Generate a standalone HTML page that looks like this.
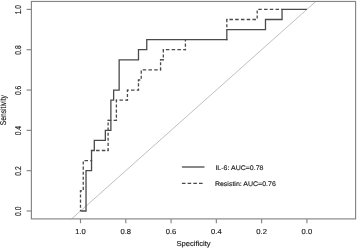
<!DOCTYPE html>
<html><head><meta charset="utf-8"><style>
html,body{margin:0;padding:0;background:#fff;}
body{width:358px;height:249px;overflow:hidden;}
svg{display:block;will-change:transform;}
text{text-rendering:geometricPrecision;font-family:"Liberation Sans",sans-serif;font-size:7.6px;fill:#1a1a1a;stroke:#1a1a1a;stroke-width:0.15px;}
</style></head><body>
<svg width="358" height="249" viewBox="0 0 358 249">
<rect x="0" y="0" width="358" height="249" fill="#fff"/>
<line x1="71.63" y1="218.9" x2="315.83" y2="1.45" stroke="#b8b8b8" stroke-width="0.9"/>
<g stroke="#4a4a4a" stroke-width="1.3" fill="none">
<line x1="80.50" y1="211.00" x2="80.50" y2="190.84" stroke-dasharray="3.080,1.989" stroke-dashoffset="1.830"/>
<rect x="79.85" y="190.19" width="1.3" height="1.3" stroke="none" fill="#4a4a4a"/>
<line x1="80.50" y1="190.84" x2="83.26" y2="190.84" stroke-dasharray="3.500,2.260" stroke-dashoffset="1.949"/>
<line x1="83.26" y1="190.84" x2="83.26" y2="160.60" stroke-dasharray="3.080,1.989" stroke-dashoffset="4.145"/>
<line x1="83.26" y1="160.60" x2="91.54" y2="160.60" stroke-dasharray="3.500,2.260" stroke-dashoffset="4.514"/>
<rect x="90.89" y="159.95" width="1.3" height="1.3" stroke="none" fill="#4a4a4a"/>
<rect x="90.89" y="149.87" width="1.3" height="1.3" stroke="none" fill="#4a4a4a"/>
<line x1="94.30" y1="150.52" x2="108.11" y2="150.52" stroke-dasharray="3.500,2.260" stroke-dashoffset="3.972"/>
<rect x="107.46" y="149.87" width="1.3" height="1.3" stroke="none" fill="#4a4a4a"/>
<line x1="108.11" y1="150.52" x2="108.11" y2="120.28" stroke-dasharray="3.080,1.989" stroke-dashoffset="0.437"/>
<rect x="107.46" y="119.63" width="1.3" height="1.3" stroke="none" fill="#4a4a4a"/>
<line x1="108.11" y1="120.28" x2="116.39" y2="120.28" stroke-dasharray="3.500,2.260" stroke-dashoffset="0.301"/>
<rect x="115.74" y="119.63" width="1.3" height="1.3" stroke="none" fill="#4a4a4a"/>
<line x1="116.39" y1="120.28" x2="116.39" y2="100.12" stroke-dasharray="3.080,1.989" stroke-dashoffset="2.485"/>
<rect x="115.74" y="99.47" width="1.3" height="1.3" stroke="none" fill="#4a4a4a"/>
<line x1="116.39" y1="100.12" x2="127.44" y2="100.12" stroke-dasharray="3.500,2.260" stroke-dashoffset="2.693"/>
<rect x="126.79" y="99.47" width="1.3" height="1.3" stroke="none" fill="#4a4a4a"/>
<line x1="127.44" y1="100.12" x2="127.44" y2="90.04" stroke-dasharray="3.080,1.989" stroke-dashoffset="1.951"/>
<rect x="126.79" y="89.39" width="1.3" height="1.3" stroke="none" fill="#4a4a4a"/>
<line x1="127.44" y1="90.04" x2="138.48" y2="90.04" stroke-dasharray="3.500,2.260" stroke-dashoffset="2.151"/>
<rect x="137.83" y="89.39" width="1.3" height="1.3" stroke="none" fill="#4a4a4a"/>
<line x1="138.48" y1="90.04" x2="138.48" y2="79.96" stroke-dasharray="3.080,1.989" stroke-dashoffset="1.474"/>
<rect x="137.83" y="79.31" width="1.3" height="1.3" stroke="none" fill="#4a4a4a"/>
<line x1="138.48" y1="79.96" x2="141.24" y2="79.96" stroke-dasharray="3.500,2.260" stroke-dashoffset="1.610"/>
<line x1="141.24" y1="79.96" x2="141.24" y2="69.88" stroke-dasharray="3.080,1.989" stroke-dashoffset="3.846"/>
<line x1="141.24" y1="69.88" x2="160.57" y2="69.88" stroke-dasharray="3.500,2.260" stroke-dashoffset="4.305"/>
<rect x="159.92" y="69.23" width="1.3" height="1.3" stroke="none" fill="#4a4a4a"/>
<line x1="160.57" y1="69.88" x2="160.57" y2="59.80" stroke-dasharray="3.080,1.989" stroke-dashoffset="0.521"/>
<rect x="159.92" y="59.15" width="1.3" height="1.3" stroke="none" fill="#4a4a4a"/>
<line x1="160.57" y1="59.80" x2="163.33" y2="59.80" stroke-dasharray="3.500,2.260" stroke-dashoffset="0.526"/>
<rect x="162.68" y="59.15" width="1.3" height="1.3" stroke="none" fill="#4a4a4a"/>
<line x1="163.33" y1="59.80" x2="163.33" y2="49.72" stroke-dasharray="3.080,1.989" stroke-dashoffset="2.893"/>
<rect x="162.68" y="49.07" width="1.3" height="1.3" stroke="none" fill="#4a4a4a"/>
<line x1="163.33" y1="49.72" x2="185.42" y2="49.72" stroke-dasharray="3.500,2.260" stroke-dashoffset="3.222"/>
<rect x="184.77" y="49.07" width="1.3" height="1.3" stroke="none" fill="#4a4a4a"/>
<line x1="185.42" y1="49.72" x2="185.42" y2="39.64" stroke-dasharray="3.080,1.989" stroke-dashoffset="1.997"/>
<rect x="184.77" y="38.99" width="1.3" height="1.3" stroke="none" fill="#4a4a4a"/>
<rect x="226.18" y="38.99" width="1.3" height="1.3" stroke="none" fill="#4a4a4a"/>
<line x1="226.83" y1="29.56" x2="226.83" y2="19.48" stroke-dasharray="3.080,1.989" stroke-dashoffset="2.846"/>
<rect x="226.18" y="18.83" width="1.3" height="1.3" stroke="none" fill="#4a4a4a"/>
<line x1="226.83" y1="19.48" x2="257.20" y2="19.48" stroke-dasharray="3.500,2.260" stroke-dashoffset="3.168"/>
<line x1="257.20" y1="19.48" x2="257.20" y2="9.40" stroke-dasharray="3.080,1.989" stroke-dashoffset="4.170"/>
<line x1="257.20" y1="9.40" x2="282.05" y2="9.40" stroke-dasharray="3.500,2.260" stroke-dashoffset="4.673"/>
</g>
<path d="M80.50,211.00 L86.02,211.00 L86.02,170.68 L91.54,170.68 L91.54,150.52 L94.30,150.52 L94.30,140.44 L105.35,140.44 L105.35,130.36 L110.87,130.36 L110.87,100.12 L113.63,100.12 L113.63,90.04 L119.15,90.04 L119.15,59.80 L138.48,59.80 L138.48,49.72 L146.76,49.72 L146.76,39.64 L226.83,39.64 L226.83,29.56 L265.49,29.56 L265.49,19.48 L282.05,19.48 L282.05,9.40 L306.90,9.40" fill="none" stroke="#4a4a4a" stroke-width="1.3"/>
<rect x="31.4" y="1.45" width="324.20" height="217.45" fill="none" stroke="#858585" stroke-width="1.15"/>
<g stroke="#858585" stroke-width="1.15"><line x1="80.50" y1="218.9" x2="80.50" y2="223.20"/><line x1="125.78" y1="218.9" x2="125.78" y2="223.20"/><line x1="171.06" y1="218.9" x2="171.06" y2="223.20"/><line x1="216.34" y1="218.9" x2="216.34" y2="223.20"/><line x1="261.62" y1="218.9" x2="261.62" y2="223.20"/><line x1="306.90" y1="218.9" x2="306.90" y2="223.20"/><line x1="26.60" y1="211.00" x2="31.4" y2="211.00"/><line x1="26.60" y1="170.68" x2="31.4" y2="170.68"/><line x1="26.60" y1="130.36" x2="31.4" y2="130.36"/><line x1="26.60" y1="90.04" x2="31.4" y2="90.04"/><line x1="26.60" y1="49.72" x2="31.4" y2="49.72"/><line x1="26.60" y1="9.40" x2="31.4" y2="9.40"/></g>
<line x1="181.9" y1="167.0" x2="204.5" y2="167.0" stroke="#4a4a4a" stroke-width="1.3"/>
<line x1="181.9" y1="183.4" x2="204.5" y2="183.4" stroke="#4a4a4a" stroke-width="1.3" stroke-dasharray="3.6,2.1"/>
<text x="0" y="0" text-anchor="middle" transform="translate(80.50,234.0) scale(1,0.95)">1.0</text>
<text x="0" y="0" text-anchor="middle" transform="translate(125.78,234.0) scale(1,0.95)">0.8</text>
<text x="0" y="0" text-anchor="middle" transform="translate(171.06,234.0) scale(1,0.95)">0.6</text>
<text x="0" y="0" text-anchor="middle" transform="translate(216.34,234.0) scale(1,0.95)">0.4</text>
<text x="0" y="0" text-anchor="middle" transform="translate(261.62,234.0) scale(1,0.95)">0.2</text>
<text x="0" y="0" text-anchor="middle" transform="translate(306.90,234.0) scale(1,0.95)">0.0</text>
<text x="0" y="0" text-anchor="middle" transform="translate(20.7,211.30) scale(1.12,0.885) rotate(-90)">0.0</text>
<text x="0" y="0" text-anchor="middle" transform="translate(20.7,170.98) scale(1.12,0.885) rotate(-90)">0.2</text>
<text x="0" y="0" text-anchor="middle" transform="translate(20.7,130.66) scale(1.12,0.885) rotate(-90)">0.4</text>
<text x="0" y="0" text-anchor="middle" transform="translate(20.7,90.34) scale(1.12,0.885) rotate(-90)">0.6</text>
<text x="0" y="0" text-anchor="middle" transform="translate(20.7,50.02) scale(1.12,0.885) rotate(-90)">0.8</text>
<text x="0" y="0" text-anchor="middle" transform="translate(20.7,9.70) scale(1.12,0.885) rotate(-90)">1.0</text>
<text x="0" y="0" text-anchor="middle" transform="translate(193.50,245.9) scale(1,0.95)">Specificity</text>
<text x="0" y="0" text-anchor="middle" transform="translate(6.3,110.17) scale(1.12,0.885) rotate(-90)">Sensitivity</text>
<text x="0" y="0" transform="translate(215.4,169.7) scale(1,0.95)" style="font-size:7.0px">IL-6: AUC=0.78</text>
<text x="0" y="0" transform="translate(214.9,185.9) scale(1,0.95)" style="font-size:7.0px">Resistin: AUC=0.76</text>
</svg>
</body></html>
